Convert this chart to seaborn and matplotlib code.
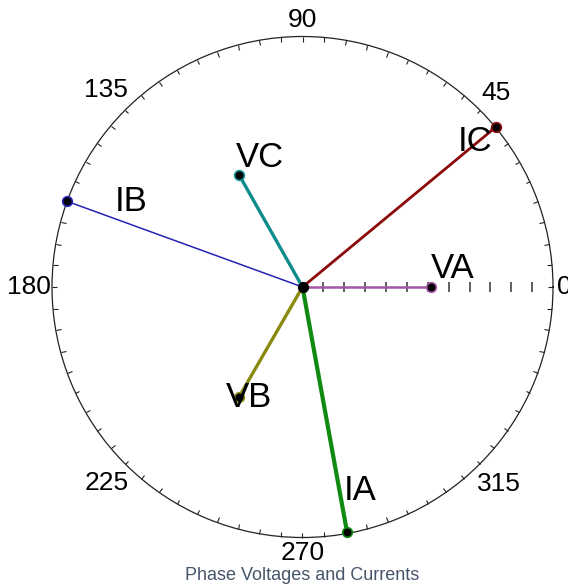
import numpy as np
import pandas as pd
import seaborn as sns
import matplotlib
matplotlib.use("Agg")
import matplotlib.pyplot as plt

# phasor data (magnitude relative to full scale, angle in degrees)
names = ["VA", "VB", "VC", "IA", "IB", "IC"]
magnitudes = [0.513, 0.507, 0.512, 0.994, 1.0, 1.0]
angles_deg = [0.0, 240.0, 119.5, 280.3, 160.0, 39.6]

# angle axis labels
angle_ticks = [0, 45, 90, 135, 180, 225, 270, 315]
angle_labels = ["0", "45", "90", "135", "180", "225", "270", "315"]
label_radius = [1.045, 1.095, 1.064, 1.11, 1.094, 1.108, 1.06, 1.11]

line_colors = {"VA": "#a455a4", "VB": "#8a8a10", "VC": "#0e8c8c",
               "IA": "#118a11", "IB": "#2424b4", "IC": "#8c0a0a"}
line_widths = {"VA": 1.8, "VB": 2.4, "VC": 2.4, "IA": 3.0, "IB": 1.1, "IC": 2.0}
# label offsets from phasor tip, in pixels
label_offsets = {"VA": (0, 9), "VB": (-13, -10), "VC": (-3, 8),
                 "IA": (-3, 32), "IB": (48, -10), "IC": (-38, -24)}

sns.set_style("white")
plt.rcParams["font.family"] = ["Liberation Sans", "DejaVu Sans"]

rows = []
for n, m, a in zip(names, magnitudes, angles_deg):
    th = np.deg2rad(a)
    rows.append({"phasor": n, "theta": th, "r": 0.0})
    rows.append({"phasor": n, "theta": th, "r": m})
df = pd.DataFrame(rows)
tips = df[df["r"] > 0]

fig = plt.figure(figsize=(5.68, 5.88), dpi=100)
ax = fig.add_axes([52 / 568, 50.5 / 588, 501 / 568, 501 / 588], projection="polar")

for n in names:
    sub = df[df["phasor"] == n]
    sns.lineplot(data=sub, x="theta", y="r", ax=ax, color=line_colors[n],
                 lw=line_widths[n], estimator=None, sort=False, legend=False)

# radial ticks along the 0 degree axis
rt = np.arange(1, 12) / 12
ax.plot(np.zeros(len(rt)), rt, ls="", marker="|", ms=7, mew=1.1, color="#333333", zorder=1)

for n in names:
    t = tips[tips["phasor"] == n]
    sns.scatterplot(data=t, x="theta", y="r", ax=ax, color="black",
                    edgecolor=line_colors[n], s=48, linewidth=1.2, zorder=5,
                    legend=False, clip_on=False)
ax.scatter([0], [0], s=50, color="black", zorder=6)

for n in names:
    t = tips[tips["phasor"] == n].iloc[0]
    ax.annotate(n, xy=(t["theta"], t["r"]), xytext=label_offsets[n],
                textcoords="offset pixels", fontsize=25, ha="left", va="baseline",
                color="black", zorder=7)

ax.set_ylim(0, 1)
ax.set_yticks([])
ax.set_xticks(np.deg2rad(angle_ticks))
ax.set_xticklabels([])
ax.set_xticks(np.deg2rad(np.arange(0, 360, 5)), minor=True)
ax.tick_params(axis="x", which="both", direction="in", length=3.5, width=0.8,
               color="#222222", bottom=False, top=True)
for a, lab, rr in zip(angle_ticks, angle_labels, label_radius):
    ax.text(np.deg2rad(a), rr, lab, ha="center", va="center", fontsize=19,
            color="black", clip_on=False)
ax.grid(False)
ax.set_xlabel("")
ax.set_ylabel("")
ax.spines["polar"].set_color("#222222")
ax.spines["polar"].set_linewidth(0.9)

fig.text(302 / 568, 1 - 575 / 588, "Phase Voltages and Currents", ha="center",
         va="center", fontsize=13, color="#46566a")

fig.savefig("out.png", dpi=100)
